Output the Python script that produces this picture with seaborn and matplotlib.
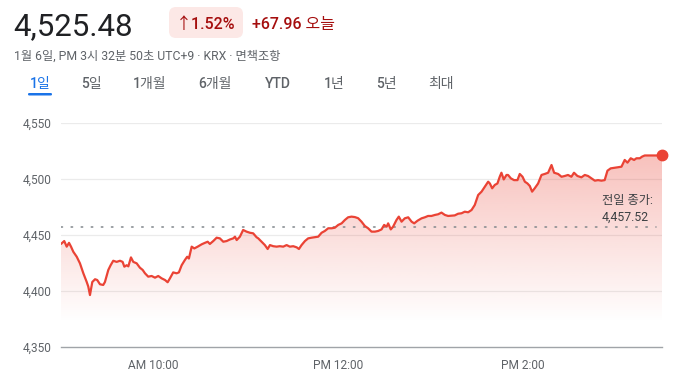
import numpy as np
import seaborn as sns
import matplotlib.pyplot as plt
import matplotlib.patches as mpatches

# intraday KOSPI, minutes after 09:00 open and index level
minutes = [0, 2.1, 3.7, 5.2, 6.5, 8.0, 10.2, 12.3, 14.5, 16.7, 17.7, 18.8, 20.3, 22.1, 23.5, 25.3, 27.4, 28.5, 30.7, 32.2,
           33.9, 36.1, 38.3, 40.0, 41.1, 42.6, 43.7, 45.4, 46.9, 49.1, 51.2, 53.0, 54.5, 56.6, 58.8, 61.0, 63.1, 65.3, 67.5, 69.2,
           70.7, 72.8, 75.0, 76.5, 78.3, 80.4, 81.9, 83.0, 84.8, 86.5, 88.7, 91.3, 93.4, 95.2, 96.6, 98.8, 101.0, 103.1, 105.3, 107.5,
           109.6, 111.8, 112.9, 114.0, 116.1, 118.2, 120.4, 122.6, 124.7, 126.9, 128.0, 130.2, 132.3, 134.1, 135.6, 137.7, 139.9, 142.0, 144.2, 146.4,
           148.5, 150.7, 152.9, 154.4, 156.1, 158.3, 160.4, 162.6, 164.7, 166.9, 169.1, 171.2, 173.4, 175.6, 177.7, 179.9, 182.1, 184.2, 186.3, 188.5,
           190.7, 192.8, 195.0, 197.2, 199.3, 201.5, 203.7, 205.8, 208.0, 209.7, 211.3, 212.3, 214.0, 215.5, 217.7, 219.2, 221.0, 223.1, 225.3, 227.5,
           229.2, 231.4, 234.0, 236.1, 238.2, 240.4, 242.6, 244.7, 246.9, 249.1, 251.2, 253.4, 255.5, 257.7, 259.9, 262.0, 264.2, 266.4, 268.5, 270.7,
           272.9, 275.0, 277.2, 278.3, 279.8, 281.5, 283.2, 284.7, 285.8, 287.3, 289.1, 290.1, 291.9, 294.0, 296.2, 297.7, 299.5, 301.0, 302.7, 304.2,
           305.7, 307.4, 309.6, 311.8, 313.9, 316.1, 318.3, 320.0, 322.6, 324.8, 326.9, 329.0, 331.2, 332.9, 335.1, 337.7, 339.9, 342.0, 344.2, 346.4,
           348.5, 350.7, 352.8, 354.6, 356.7, 359.3, 361.5, 363.7, 365.8, 367.6, 369.7, 371.9, 373.4, 375.6, 377.1, 378.8, 390]
prices = [4442, 4444.6, 4439.6, 4443, 4439.6, 4435, 4430.6, 4424.7, 4415.8, 4408, 4404, 4396.4, 4408, 4410.5, 4409.8, 4406, 4405.4, 4408, 4418.8, 4423,
          4427, 4426, 4427, 4426, 4421.7, 4423, 4422, 4430, 4426, 4424.7, 4420.8, 4418.8, 4415.8, 4412.8, 4413.4, 4411.9, 4413.4, 4411.3, 4409.8, 4407.8,
          4411.3, 4416.6, 4415.8, 4416.6, 4423, 4427.7, 4430.6, 4429, 4439.6, 4438, 4439.6, 4441.7, 4443, 4444, 4442, 4444.6, 4447.6, 4447, 4444, 4444.6,
          4446, 4447, 4448.5, 4445.5, 4448.5, 4454.5, 4453, 4452, 4451.5, 4448, 4447, 4444, 4441, 4437.5, 4441, 4440, 4439.6, 4440, 4439.6, 4441,
          4439.6, 4440, 4439, 4437.5, 4441, 4444.6, 4447, 4447.6, 4448, 4448.5, 4452, 4453.6, 4456, 4456, 4456.5, 4459, 4460.4, 4463.4, 4465.8, 4466.4,
          4466, 4465, 4461.9, 4458, 4456, 4453, 4453, 4453.6, 4455, 4459, 4457.4, 4460.4, 4455, 4457.4, 4463.4, 4466.4, 4461.9, 4464.9, 4465.8, 4461.9,
          4460.4, 4462.8, 4464.9, 4465.8, 4467, 4467, 4467.9, 4468.5, 4470, 4467.9, 4467, 4467.3, 4467.5, 4469, 4469.4, 4470.8, 4470.3, 4472.3, 4476.8, 4485.7,
          4488.7, 4493.1, 4497.6, 4496, 4491.7, 4494.7, 4496, 4502, 4505.6, 4499.6, 4503.6, 4503.6, 4500.6, 4499, 4499, 4504.5, 4502, 4497.6, 4496, 4493.8,
          4488.7, 4491.7, 4496, 4503.6, 4504.5, 4505.6, 4512.5, 4505.6, 4504.5, 4502, 4502.7, 4503.6, 4502, 4505.6, 4502.7, 4501.5, 4503.6, 4502.7, 4500.6, 4498.5,
          4499, 4498.5, 4499, 4507.4, 4509.5, 4510, 4510.5, 4511, 4517, 4514.6, 4518.5, 4517, 4518.5, 4518.5, 4520, 4521, 4521]
assert len(minutes) == len(prices)

prev_close = 4457.52
y_ticks = [4350, 4400, 4450, 4500, 4550]
x_ticks = [60, 180, 300]
x_labels = ['AM 10:00', 'PM 12:00', 'PM 2:00']
tabs = ['1일', '5일', '1개월', '6개월', 'YTD', '1년', '5년', '최대']
tab_x = [40, 91, 150, 215, 278, 334, 386, 441]

RED = '#ea4335'
GRAY = '#5f6368'

sns.set_style('white')
plt.rcParams['font.family'] = ['Roboto', 'Noto Sans CJK KR', 'DejaVu Sans']

W, H = 684, 385
fig = plt.figure(figsize=(W / 100, H / 100), dpi=100)
ax = fig.add_axes([61 / W, 38 / H, 601 / W, 224 / H])

def ftext(x, y, s, **kw):
    fig.text(x / W, 1 - y / H, s, **kw)

# header
ftext(13, 35, '4,525.48', fontsize=22.5, color='#202124', va='baseline')
badge = mpatches.FancyBboxPatch((169, H - 38), 74, 31, boxstyle='round,pad=0,rounding_size=7',
                                transform=None, fc='#fce8e6', ec='none')
fig.patches.append(badge)
ftext(206, 28.5, '↑1.52%', fontsize=11.5, color='#a50e0e', fontweight='medium', ha='center', va='baseline')
ftext(252, 28.5, '+67.96 오늘', fontsize=11.5, color='#a50e0e', fontweight='medium', va='baseline')
ftext(14, 59.5, '1월 6일, PM 3시 32분 50초 UTC+9 · KRX · 면책조항', fontsize=8.8, color=GRAY, va='baseline')

for i, (t, x) in enumerate(zip(tabs, tab_x)):
    ftext(x, 88, t, fontsize=10, color='#1a73e8' if i == 0 else GRAY, fontweight='medium',
          ha='center', va='baseline')
fig.patches.append(mpatches.FancyBboxPatch((28, H - 95.5), 24, 2.5, boxstyle='round,pad=0,rounding_size=1.2',
                                           transform=None, fc='#1a73e8', ec='none'))

# area gradient clipped to the region under the line
poly = ax.fill_between(minutes, prices, 4350, color='none', lw=0)
grad = np.zeros((256, 1, 4))
grad[:, 0, :3] = np.array([234, 67, 53]) / 255
grad[:, 0, 3] = np.linspace(0, 0.33, 256)
img = ax.imshow(grad, extent=[0, 390, 4372, 4522], origin='lower', aspect='auto', zorder=1)
img.set_clip_path(poly.get_paths()[0], transform=ax.transData)

ax.axhline(prev_close, xmin=0, xmax=595 / 601, color='#80868b', lw=1.1, ls=(0, (1, 5.6)),
           dash_capstyle='round', zorder=2)
sns.lineplot(x=minutes, y=prices, ax=ax, color=RED, lw=1.6, zorder=3, sort=False)
ax.plot(minutes[-1], prices[-1], 'o', color=RED, ms=7.5, clip_on=False, zorder=4)

ax.text(601.5 / W, 1 - 204 / H, '전일 종가:', transform=fig.transFigure, fontsize=8.8, color='#3c4043', va='baseline')
ax.text(601.5 / W, 1 - 220.5 / H, '4,457.52', transform=fig.transFigure, fontsize=8.8, color='#3c4043', va='baseline')

ax.set_xlim(0, 390)
ax.set_ylim(4350, 4550)
ax.set_yticks(y_ticks)
ax.set_yticklabels([f'{v:,}' for v in y_ticks])
ax.set_xticks(x_ticks)
ax.set_xticklabels(x_labels)
ax.tick_params(axis='y', length=0, pad=7, labelsize=8.6, labelcolor=GRAY)
ax.tick_params(axis='x', length=3.5, width=1.6, color=GRAY, pad=5, labelsize=8.6, labelcolor=GRAY)
for y in y_ticks[1:]:
    ax.axhline(y, color='#ebebeb', lw=0.9, zorder=0)
for s in ['top', 'right', 'left']:
    ax.spines[s].set_visible(False)
ax.spines['bottom'].set_color('#a0a4a8')
ax.spines['bottom'].set_linewidth(1.0)
ax.set_xlabel('')
ax.set_ylabel('')

plt.savefig('out.png', dpi=100)
